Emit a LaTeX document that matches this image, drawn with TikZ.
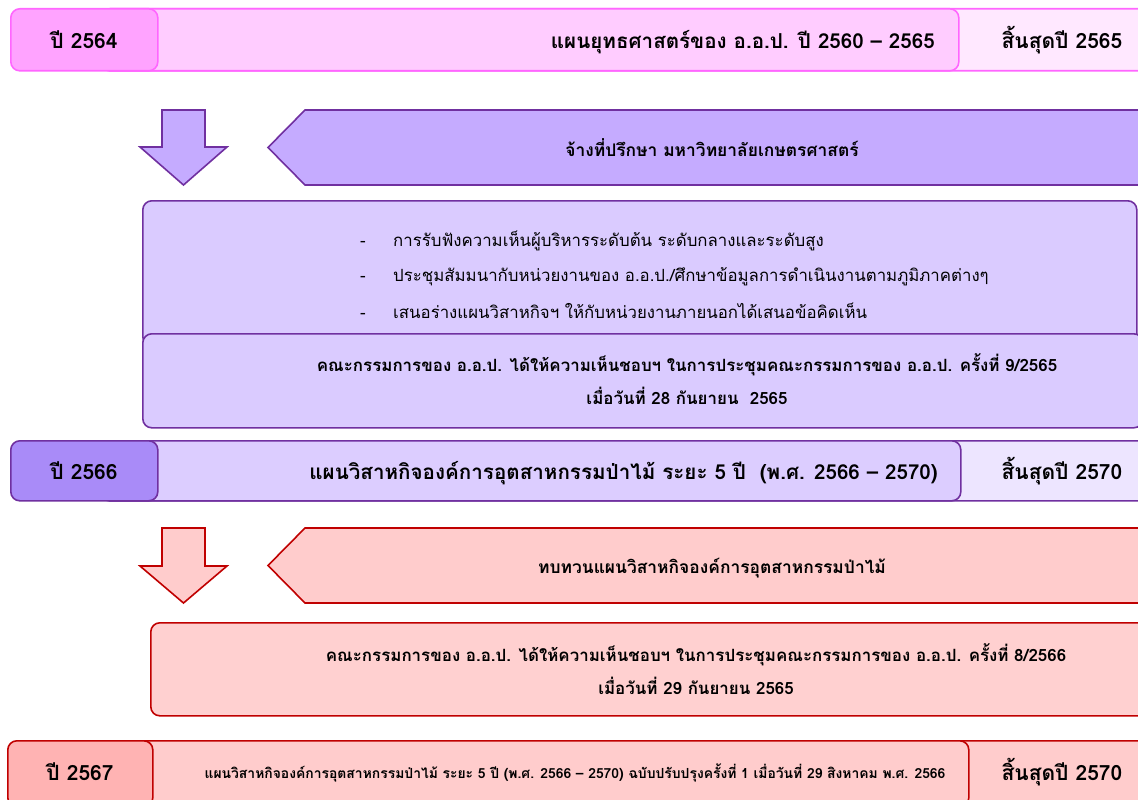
\documentclass[tikz,border=0pt]{standalone}
\usepackage{fontspec}
\setmainfont[Script=Thai]{Loma}
\definecolor{pkD}{HTML}{FF66FF}
\definecolor{pkY}{HTML}{FFA3FF}
\definecolor{pkM}{HTML}{FFCCFF}
\definecolor{pkR}{HTML}{FFE8FF}
\definecolor{puD}{HTML}{7030A0}
\definecolor{puA}{HTML}{C5ABFF}
\definecolor{puL}{HTML}{DACBFF}
\definecolor{puY}{HTML}{A98BF8}
\definecolor{puM}{HTML}{DCCDFF}
\definecolor{puR}{HTML}{EDE5FF}
\definecolor{rdD}{HTML}{C00000}
\definecolor{rdA}{HTML}{FFCCCC}
\definecolor{rdL}{HTML}{FFD0D0}
\definecolor{rdY}{HTML}{FFB3B3}
\begin{document}
\begin{tikzpicture}[x=1pt,y=-1pt,
  box/.style={draw, rounded corners=9pt, line width=1.6pt, inner sep=0pt, anchor=north west},
  shp/.style={line width=1.6pt, line join=miter},
  yt/.style={inner sep=0pt, anchor=base, font=\bfseries\fontsize{21}{24}\selectfont},
  hd/.style={inner sep=0pt, anchor=base east, font=\bfseries\fontsize{20.6}{24}\selectfont},
  arrtext/.style={inner sep=0pt, anchor=base, font=\bfseries\fontsize{17.4}{20}\selectfont},
  bt/.style={inner sep=0pt, anchor=base, font=\bfseries\fontsize{16.9}{20}\selectfont},
  lt/.style={inner sep=0pt, anchor=base west, font=\fontsize{16.8}{20}\selectfont},
  st/.style={inner sep=0pt, anchor=base, font=\bfseries\fontsize{13.9}{16}\selectfont}]
\useasboundingbox[fill=white] (0,0) rectangle (1138,800);

% ---- Row 1 (pink) ----
\node[box, draw=pkD, fill=pkR, minimum width=1080pt, minimum height=62pt] (endA) at (100,8) {};
\node[box, draw=pkD, fill=pkM, minimum width=858pt, minimum height=62pt] (midA) at (100,8) {};
\node[box, draw=pkD, fill=pkY, minimum width=147pt, minimum height=62pt] (yrA) at (10,8) {};
\node[yt] (yrAt) at (84,49) {ปี 2564};
\node[hd] (tA) at (935,49) {แผนยุทธศาสตร์ของ อ.อ.ป. ปี 2560 – 2565};
\node[yt] (eA) at (1062,49) {สิ้นสุดปี 2565};

% ---- Row 2 (purple arrows) ----
\draw[shp, draw=puD, fill=puA] (162,110) -- (205,110) -- (205,147) -- (227,147) -- (183.5,185) -- (140,147) -- (162,147) -- cycle;
\draw[shp, draw=puD, fill=puA] (1160,110) -- (305,110) -- (268,147.5) -- (305,185) -- (1160,185) -- cycle;
\node[arrtext] (tB) at (712,156) {จ้างที่ปรึกษา มหาวิทยาลัยเกษตรศาสตร์};

% ---- Box 3 ----
\node[box, draw=puD, fill=puL, minimum width=994pt, minimum height=145pt] (bC) at (142,200) {};
\node[lt] (d1) at (360,246) {-};
\node[lt] (l1) at (393,246) {การรับฟังความเห็นผู้บริหารระดับต้น ระดับกลางและระดับสูง};
\node[lt] (d2) at (360,281) {-};
\node[lt] (l2) at (393,281) {ประชุมสัมมนากับหน่วยงานของ อ.อ.ป./ศึกษาข้อมูลการดำเนินงานตามภูมิภาคต่างๆ};
\node[lt] (d3) at (360,318) {-};
\node[lt] (l3) at (393,318) {เสนอร่างแผนวิสาหกิจฯ ให้กับหน่วยงานภายนอกได้เสนอข้อคิดเห็น};

% ---- Box 4 ----
\node[box, draw=puD, fill=puL, minimum width=1000pt, minimum height=94pt] (bD) at (142,333) {};
\node[bt] (tD1) at (687,371) {คณะกรรมการของ อ.อ.ป. ได้ให้ความเห็นชอบฯ ในการประชุมคณะกรรมการของ อ.อ.ป. ครั้งที่ 9/2565};
\node[bt] (tD2) at (687,404) {เมื่อวันที่ 28 กันยายน~~2565};

% ---- Row 5 (purple) ----
\node[box, draw=puD, fill=puR, minimum width=1080pt, minimum height=60pt] (endE) at (100,440) {};
\node[box, draw=puD, fill=puM, minimum width=860pt, minimum height=60pt] (midE) at (100,440) {};
\node[box, draw=puD, fill=puY, minimum width=147pt, minimum height=60pt] (yrE) at (10,440) {};
\node[yt] (yrEt) at (84,479) {ปี 2566};
\node[hd] (tE) at (938,479) {แผนวิสาหกิจองค์การอุตสาหกรรมป่าไม้ ระยะ 5 ปี~~(พ.ศ. 2566 – 2570)};
\node[yt] (eE) at (1062,479) {สิ้นสุดปี 2570};

% ---- Row 6 (red arrows) ----
\draw[shp, draw=rdD, fill=rdA] (162,528) -- (205,528) -- (205,566) -- (227,566) -- (183.5,603) -- (140,566) -- (162,566) -- cycle;
\draw[shp, draw=rdD, fill=rdA] (1160,528) -- (305,528) -- (268,565.5) -- (305,603) -- (1160,603) -- cycle;
\node[arrtext] (tF) at (712,573) {ทบทวนแผนวิสาหกิจองค์การอุตสาหกรรมป่าไม้};

% ---- Box 7 ----
\node[box, draw=rdD, fill=rdL, minimum width=1000pt, minimum height=93pt] (bG) at (150,622) {};
\node[bt] (tG1) at (696,661) {คณะกรรมการของ อ.อ.ป. ได้ให้ความเห็นชอบฯ ในการประชุมคณะกรรมการของ อ.อ.ป. ครั้งที่ 8/2566};
\node[bt] (tG2) at (696,694) {เมื่อวันที่ 29 กันยายน 2565};

% ---- Row 8 (red) ----
\node[box, draw=rdD, fill=rdA, minimum width=1080pt, minimum height=66pt] (endH) at (100,740) {};
\node[box, draw=rdD, fill=rdA, minimum width=868pt, minimum height=66pt] (midH) at (100,740) {};
\node[box, draw=rdD, fill=rdY, minimum width=145pt, minimum height=66pt] (yrH) at (7,740) {};
\node[yt] (yrHt) at (80,780) {ปี 2567};
\node[st] (tH) at (575,778) {แผนวิสาหกิจองค์การอุตสาหกรรมป่าไม้ ระยะ 5 ปี (พ.ศ. 2566 – 2570) ฉบับปรับปรุงครั้งที่ 1 เมื่อวันที่ 29 สิงหาคม พ.ศ. 2566};
\node[yt] (eH) at (1062,780) {สิ้นสุดปี 2570};
\end{tikzpicture}
\end{document}
